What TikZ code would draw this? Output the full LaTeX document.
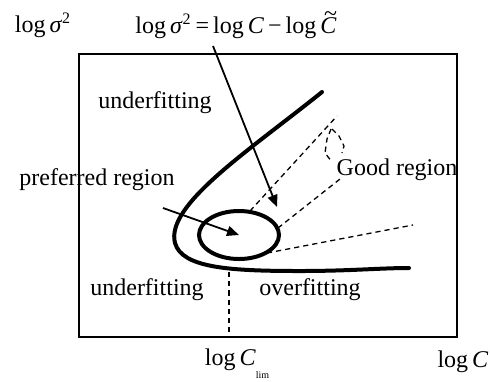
\documentclass[tikz,border=0pt]{standalone}
\usepackage{fontspec}
\setmainfont{Liberation Serif}
\usetikzlibrary{arrows.meta, positioning, calc}
\newcommand{\tildeC}{\rlap{\hspace{0.16em}\raisebox{0.5em}{\textasciitilde}}\textit{C}}
\tikzset{
  every picture/.style={font=\fontsize{12}{14}\selectfont, line width=0.8pt},
  frame/.style={draw=black, line width=0.85pt},
  boundary/.style={draw=black, line width=2pt, line cap=round},
  guide/.style={draw=black, line width=0.65pt, dash pattern=on 2.6pt off 2pt},
  arrow/.style={-{Triangle[length=6pt, width=5pt]}, draw=black, line width=0.9pt},
  label/.style={inner sep=1pt},
}
\begin{document}
\begin{tikzpicture}[x=0.5pt, y=-0.5pt]
  \useasboundingbox (0,0) rectangle (490,381);
  % axes frame
  \draw[frame] (79,54) rectangle (457,337);
  \node[label] (yaxis) at (43,25) {log\,\textit{σ}\textsuperscript{2}};
  \node[label] (rel) at (236,25) {log\,\textit{σ}\textsuperscript{2}\,=\,log\,\textit{C}\,−\,log\,\tildeC};
  \node[label] (xaxis) at (463,362) {log\,\textit{C}};
  \node[label] (clim) at (237,364) {log\,\textit{C}\raisebox{-1.2ex}{\tiny lim}};
  % region labels
  \node[label] (under1) at (155,103) {underfitting};
  \node[label] (pref) at (97,180) {preferred region};
  \node[label] (goodlbl) at (397,170) {Good region};
  \node[label] (under2) at (147,290) {underfitting};
  \node[label] (over) at (310,290) {overfitting};
  % thick boundary curve
  \draw[boundary] (322,92) .. controls (250,150) and (165,205) .. (175,243)
    .. controls (182,268) and (230,271) .. (300,271)
    .. controls (350,271) and (380,268) .. (409,268);
  % preferred ellipse
  \coordinate (ctr) at (239,235);
  \draw[boundary] (ctr) ellipse [x radius=40, y radius=24];
  % dashed guides
  \coordinate (lim) at (229,272);
  \coordinate (limb) at (229,337);
  \draw[guide] (lim) -- (limb);
  \draw[guide] (250,211) -- (337,116);
  \draw[guide] (278,228) -- (340,179);
  \draw[guide] (267,253) -- (413,225);
  \draw[guide] (331,129) -- (327,139) -- (325,153) -- (332,162);
  \draw[guide] (332,129) -- (339,136) -- (344,146) -- (342,153);
  % arrows
  \coordinate (relstart) at (213,46);
  \coordinate (reltip) at (277,207);
  \coordinate (prefstart) at (163,208);
  \draw[arrow] (relstart) -- (reltip);
  \draw[arrow] (prefstart) -- (ctr);
\end{tikzpicture}
\end{document}
